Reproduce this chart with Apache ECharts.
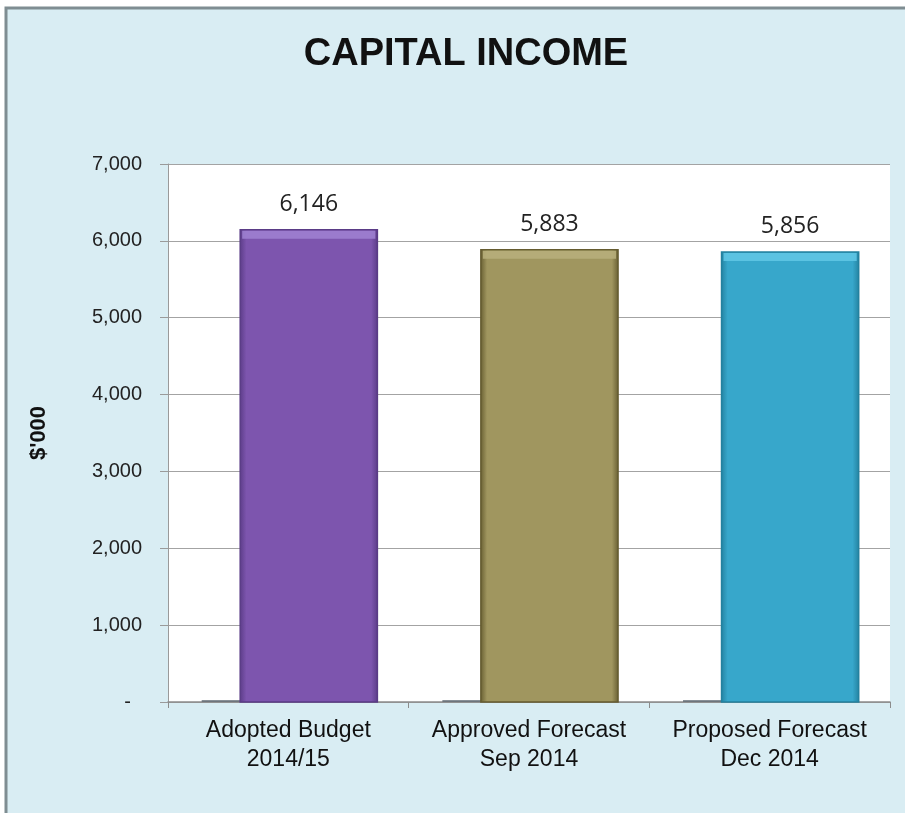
<!DOCTYPE html>
<html>
<head>
<meta charset="utf-8">
<script src="https://cdn.jsdelivr.net/npm/echarts@6/dist/echarts.min.js"></script>
<style>
  html, body { margin: 0; padding: 0; background: #ffffff; }
  #chart { width: 905px; height: 813px; }
</style>
</head>
<body>
<div id="chart"></div>
<script>
// Capital income, $'000
const categories = ['Adopted Budget\n2014/15', 'Approved Forecast\nSep 2014', 'Proposed Forecast\nDec 2014'];
const values = [6146, 5883, 5856];
const yTicks = { min: 0, max: 7000, step: 1000 };

// per-bar palette: body, edge, bevel highlight
const barBody = ['#7d55ae', '#a0965f', '#37a7cb'];
const barEdge = ['#5a3b86', '#655c30', '#23819f'];
const barTop = ['#a083d2', '#b9b07c', '#62c8e6'];

const chart = echarts.init(document.getElementById('chart'), null, { renderer: 'canvas' });

function renderBar(params, api) {
  const idx = api.value(0);
  const top = api.coord([idx, api.value(1)]);
  const base = api.coord([idx, 0]);
  const band = api.size([1, 0])[0];
  const w = band * 0.57;
  const cx = top[0] + band * 0.085;
  const x0 = cx - w / 2;
  const y0 = top[1];
  const h = base[1] - top[1];
  const i = params.dataIndex;
  const body = new echarts.graphic.LinearGradient(0, 0, 1, 0, [
    { offset: 0, color: barEdge[i] },
    { offset: 0.05, color: barBody[i] },
    { offset: 0.5, color: barBody[i] },
    { offset: 0.95, color: barBody[i] },
    { offset: 1, color: barEdge[i] }
  ]);
  return {
    type: 'group',
    children: [
      { // floor shadow to the left of the column
        type: 'line',
        shape: { x1: x0 - band * 0.16, y1: base[1] - 1, x2: x0, y2: base[1] - 1 },
        style: { stroke: '#55606a', lineWidth: 2, opacity: 0.7 }
      },
      {
        type: 'rect',
        shape: { x: x0, y: y0, width: w, height: h },
        style: { fill: body, stroke: barEdge[i], lineWidth: 1.5 }
      },
      { // bevelled top edge
        type: 'rect',
        shape: { x: x0 + 2, y: y0 + 1, width: w - 4, height: 8 },
        style: { fill: barTop[i], opacity: 0.85 }
      },
      {
        type: 'text',
        style: {
          x: cx, y: y0 - 25,
          text: echarts.format.addCommas(api.value(1)),
          fill: '#222222',
          font: '23px "Open Sans", sans-serif',
          align: 'center', verticalAlign: 'middle'
        }
      }
    ]
  };
}

chart.setOption({
  backgroundColor: '#ffffff',
  animation: false,
  graphic: [
    {
      type: 'rect', z: -10,
      shape: { x: 6, y: 8, width: 920, height: 830 },
      style: { fill: '#d9edf3', stroke: '#7f8d92', lineWidth: 3 }
    }
  ],
  title: {
    text: 'CAPITAL INCOME',
    left: 461, textAlign: 'center',
    top: 31,
    textStyle: { fontFamily: '"Liberation Sans", Arial, sans-serif', fontSize: 38, fontWeight: 'bold', color: '#111111' }
  },
  grid: {
    left: 168, right: 15, top: 164, bottom: 111,
    show: true, backgroundColor: '#ffffff', borderWidth: 0
  },
  xAxis: {
    type: 'category',
    data: categories,
    axisLine: { show: true, lineStyle: { color: '#8c8c8c', width: 1.5 } },
    axisTick: { show: true, length: 6, interval: 0, lineStyle: { color: '#8c8c8c' } },
    axisLabel: {
      interval: 0, margin: 14,
      fontFamily: '"Liberation Sans", Arial, sans-serif', fontSize: 23, lineHeight: 29, color: '#111111'
    }
  },
  yAxis: {
    type: 'value',
    min: yTicks.min, max: yTicks.max, interval: yTicks.step,
    name: "$'000",
    nameLocation: 'middle', nameRotate: 90, nameGap: 118,
    nameTextStyle: { fontFamily: '"Liberation Sans", Arial, sans-serif', fontSize: 22, fontWeight: 'bold', color: '#111111' },
    axisLine: { show: true, lineStyle: { color: '#9a9a9a' } },
    axisTick: { show: true, length: 8, lineStyle: { color: '#9a9a9a' } },
    splitLine: { show: true, lineStyle: { color: '#a3a3a3', width: 1 } },
    axisLabel: {
      margin: 26,
      fontFamily: '"Liberation Sans", Arial, sans-serif', fontSize: 20, color: '#222222',
      formatter: v => v === 0 ? '-  ' : echarts.format.addCommas(v)
    }
  },
  series: [{
    type: 'custom',
    renderItem: renderBar,
    encode: { x: 0, y: 1 },
    data: values.map((v, i) => [i, v])
  }]
});
</script>
</body>
</html>
